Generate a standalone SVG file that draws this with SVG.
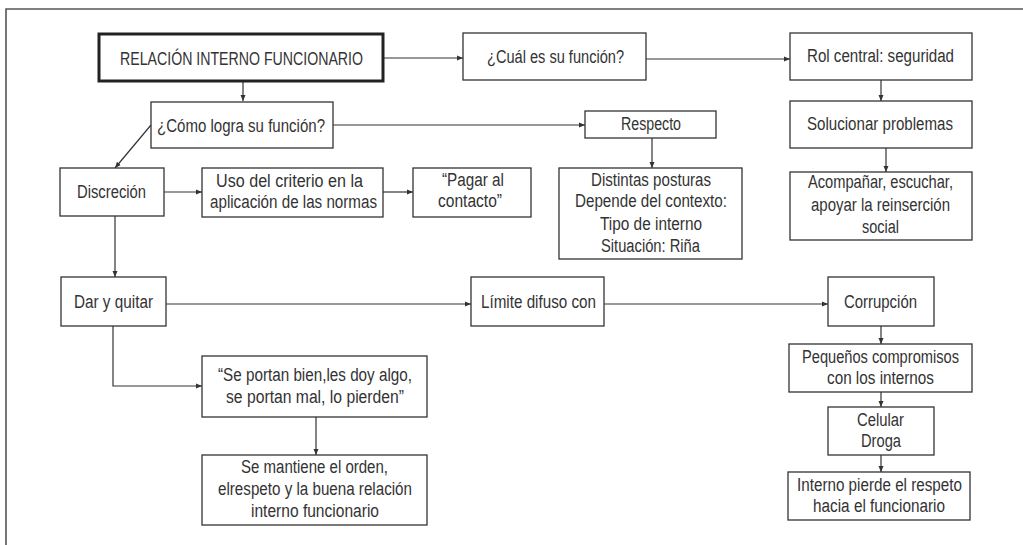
<svg xmlns="http://www.w3.org/2000/svg" width="1023" height="545" viewBox="0 0 1023 545">
<style>
.b{fill:#fff;stroke:#333;stroke-width:1.3}
.bt{fill:#fff;stroke:#222;stroke-width:3}
text{font-family:"Liberation Sans",Arial,sans-serif;font-size:18px;fill:#333}
.c path{fill:none;stroke:#333;stroke-width:1.2;marker-end:url(#ah)}
.frame{fill:none;stroke:#555;stroke-width:1.6}
</style>
<defs>
<marker id="ah" markerUnits="userSpaceOnUse" markerWidth="7" markerHeight="6" refX="6" refY="3" orient="auto">
<path d="M0,0.5 L6,3 L0,5.5 z" fill="#333"/>
</marker>
</defs>
<rect width="1023" height="545" fill="#fff"/>
<path class="frame" d="M1023,9 H6 V545"/>
<g class="c">
<path d="M383,58 H463"/>
<path d="M243,81 V101"/>
<path d="M646,59 H790"/>
<path d="M881,80 V101"/>
<path d="M333,125 H585"/>
<path d="M151,125 L115,168"/>
<path d="M652,138 V168"/>
<path d="M886,148 V172"/>
<path d="M164,192 H202"/>
<path d="M383,192 H413"/>
<path d="M115,216 V277"/>
<path d="M166,304 H471"/>
<path d="M604,304 H828"/>
<path d="M113,326 V386 H202"/>
<path d="M316,417 V455"/>
<path d="M881,326 V344"/>
<path d="M881,392 V407"/>
<path d="M881,455 V472"/>
</g>
<g id="n1"><rect class="bt" x="99" y="34" width="284" height="47"/><text x="120" y="65" textLength="243" lengthAdjust="spacingAndGlyphs">RELACIÓN INTERNO FUNCIONARIO</text></g>
<g id="n2"><rect class="b" x="463" y="33" width="183" height="47"/><text x="487" y="63" textLength="137" lengthAdjust="spacingAndGlyphs">¿Cuál es su función?</text></g>
<g id="n3"><rect class="b" x="790" y="33" width="182" height="47"/><text x="807" y="62" textLength="147" lengthAdjust="spacingAndGlyphs">Rol central: seguridad</text></g>
<g id="n4"><rect class="b" x="151" y="102" width="182" height="46"/><text x="157" y="132" textLength="168" lengthAdjust="spacingAndGlyphs">¿Cómo logra su función?</text></g>
<g id="n5"><rect class="b" x="585" y="111" width="131" height="27"/><text x="621" y="130" textLength="60" lengthAdjust="spacingAndGlyphs">Respecto</text></g>
<g id="n6"><rect class="b" x="790" y="101" width="182" height="47"/><text x="807" y="130" textLength="146" lengthAdjust="spacingAndGlyphs">Solucionar problemas</text></g>
<g id="n7"><rect class="b" x="60" y="168" width="104" height="48"/><text x="77" y="198" textLength="69" lengthAdjust="spacingAndGlyphs">Discreción</text></g>
<g id="n8"><rect class="b" x="202" y="168" width="181" height="49"/><text x="216" y="187" textLength="147" lengthAdjust="spacingAndGlyphs">Uso del criterio en la</text><text x="210" y="208" textLength="167" lengthAdjust="spacingAndGlyphs">aplicación de las normas</text></g>
<g id="n9"><rect class="b" x="413" y="168" width="118" height="49"/><text x="442" y="186" textLength="62" lengthAdjust="spacingAndGlyphs">“Pagar al</text><text x="438" y="207" textLength="64" lengthAdjust="spacingAndGlyphs">contacto”</text></g>
<g id="n10"><rect class="b" x="559" y="168" width="183" height="91"/><text x="591" y="186" textLength="120" lengthAdjust="spacingAndGlyphs">Distintas posturas</text><text x="575" y="207" textLength="152" lengthAdjust="spacingAndGlyphs">Depende del contexto:</text><text x="600" y="230" textLength="102" lengthAdjust="spacingAndGlyphs">Tipo de interno</text><text x="601" y="252" textLength="99" lengthAdjust="spacingAndGlyphs">Situación: Riña</text></g>
<g id="n11"><rect class="b" x="790" y="172" width="182" height="68"/><text x="808" y="188" textLength="145" lengthAdjust="spacingAndGlyphs">Acompañar, escuchar,</text><text x="811" y="211" textLength="139" lengthAdjust="spacingAndGlyphs">apoyar la reinserción</text><text x="862" y="233" textLength="37" lengthAdjust="spacingAndGlyphs">social</text></g>
<g id="n12"><rect class="b" x="61" y="277" width="105" height="49"/><text x="74" y="308" textLength="79" lengthAdjust="spacingAndGlyphs">Dar y quitar</text></g>
<g id="n13"><rect class="b" x="471" y="277" width="133" height="49"/><text x="481" y="308" textLength="115" lengthAdjust="spacingAndGlyphs">Límite difuso con</text></g>
<g id="n14"><rect class="b" x="828" y="277" width="106" height="49"/><text x="844" y="308" textLength="73" lengthAdjust="spacingAndGlyphs">Corrupción</text></g>
<g id="n15"><rect class="b" x="202" y="356" width="225" height="61"/><text x="218" y="381" textLength="194" lengthAdjust="spacingAndGlyphs">“Se portan bien,les doy algo,</text><text x="226" y="403" textLength="178" lengthAdjust="spacingAndGlyphs">se portan mal, lo pierden”</text></g>
<g id="n16"><rect class="b" x="202" y="455" width="225" height="70"/><text x="241" y="473" textLength="147" lengthAdjust="spacingAndGlyphs">Se mantiene el orden,</text><text x="218" y="495" textLength="194" lengthAdjust="spacingAndGlyphs">elrespeto y la buena relación</text><text x="251" y="517" textLength="128" lengthAdjust="spacingAndGlyphs">interno funcionario</text></g>
<g id="n17"><rect class="b" x="789" y="344" width="183" height="48"/><text x="802" y="363" textLength="157" lengthAdjust="spacingAndGlyphs">Pequeños compromisos</text><text x="827" y="384" textLength="107" lengthAdjust="spacingAndGlyphs">con los internos</text></g>
<g id="n18"><rect class="b" x="828" y="407" width="106" height="48"/><text x="857" y="426" textLength="47" lengthAdjust="spacingAndGlyphs">Celular</text><text x="861" y="447" textLength="40" lengthAdjust="spacingAndGlyphs">Droga</text></g>
<g id="n19"><rect class="b" x="788" y="472" width="182" height="48"/><text x="797" y="491" textLength="165" lengthAdjust="spacingAndGlyphs">Interno pierde el respeto</text><text x="813" y="512" textLength="132" lengthAdjust="spacingAndGlyphs">hacia el funcionario</text></g>
</svg>
